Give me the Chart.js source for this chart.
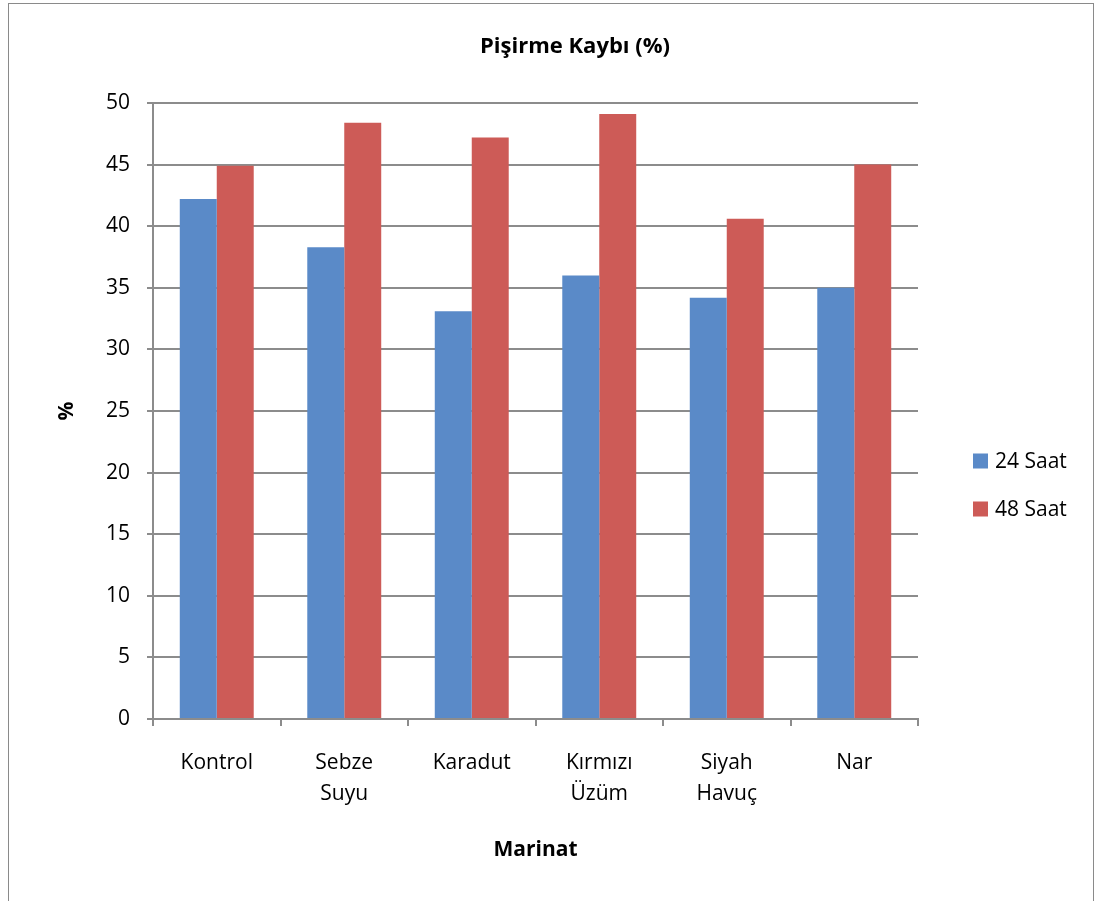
<!DOCTYPE html>
<html>
<head>
<meta charset="utf-8">
<script src="https://cdn.jsdelivr.net/npm/chart.js@4"></script>
<style>
  body { margin: 0; background: #fff; }
  #frame { position: absolute; left: 8px; top: 3px; width: 1084px; height: 920px; border: 1px solid #8a8a8a; }
  #wrap { position: absolute; left: 0; top: 0; width: 1094px; height: 901px; }
</style>
</head>
<body>
<div id="frame"></div>
<div id="wrap"><canvas id="chart" width="1094" height="901"></canvas></div>
<script>
const categories = ["Kontrol", ["Sebze", "Suyu"], "Karadut", ["Kırmızı", "Üzüm"], ["Siyah", "Havuç"], "Nar"];
const saat24 = [42.2, 38.3, 33.1, 36.0, 34.2, 35.0];
const saat48 = [44.9, 48.4, 47.2, 49.1, 40.6, 45.0];
const seriesNames = ["24 Saat", "48 Saat"];
const yTicks = [0, 5, 10, 15, 20, 25, 30, 35, 40, 45, 50];

const FONT = "'Open Sans'";
const gridGray = "#8c8c8c";

// title + legend drawn by hand so they land where the original has them
const extras = {
  id: "extras",
  afterDraw(chart) {
    const c = chart.ctx;
    c.save();
    c.fillStyle = "#000";
    c.font = "bold 22px " + FONT;
    c.textAlign = "center";
    c.textBaseline = "middle";
    c.fillText("Pişirme Kaybı (%)", 575, 47);

    c.font = "21px " + FONT;
    c.textAlign = "left";
    chart.data.datasets.forEach((ds, i) => {
      const y = 461 + i * 48;
      c.fillStyle = ds.backgroundColor;
      c.fillRect(973, y - 7.5, 15, 15);
      c.fillStyle = "#000";
      c.fillText(ds.label, 995, y + 1);
    });
    c.restore();
  }
};

new Chart(document.getElementById("chart"), {
  type: "bar",
  data: {
    labels: categories,
    datasets: [
      { label: seriesNames[0], data: saat24, backgroundColor: "#5a8ac8" },
      { label: seriesNames[1], data: saat48, backgroundColor: "#cd5b57" }
    ]
  },
  options: {
    responsive: false,
    animation: false,
    layout: { padding: { left: 0, right: 176, top: 103, bottom: 0 } },
    datasets: { bar: { barPercentage: 1, categoryPercentage: 0.58 } },
    plugins: { legend: { display: false }, tooltip: { enabled: false } },
    scales: {
      x: {
        afterFit: (s) => { s.height = 901 - 719; },
        grid: { offset: true, drawOnChartArea: false, color: gridGray, lineWidth: 2, tickLength: 7 },
        border: { color: gridGray, width: 2 },
        ticks: { color: "#000", padding: 22, font: { family: FONT, size: 21, lineHeight: 1.45 }, maxRotation: 0 },
        title: { display: true, text: "Marinat", color: "#000", font: { family: FONT, size: 21, weight: "bold", lineHeight: 1.2 }, padding: { top: 0, bottom: 38 } }
      },
      y: {
        min: 0,
        max: 50,
        afterFit: (s) => { s.width = 153; },
        afterBuildTicks: (s) => { s.ticks = yTicks.map(v => ({ value: v })); },
        grid: { color: gridGray, lineWidth: 2, tickLength: 6 },
        border: { color: gridGray, width: 2 },
        ticks: { color: "#000", padding: 17, font: { family: FONT, size: 21 } },
        title: { display: true, text: "%", color: "#000", font: { family: FONT, size: 21, weight: "bold", lineHeight: 1.2 }, padding: { top: 54, bottom: 0 } }
      }
    }
  },
  plugins: [extras]
});
</script>
</body>
</html>
